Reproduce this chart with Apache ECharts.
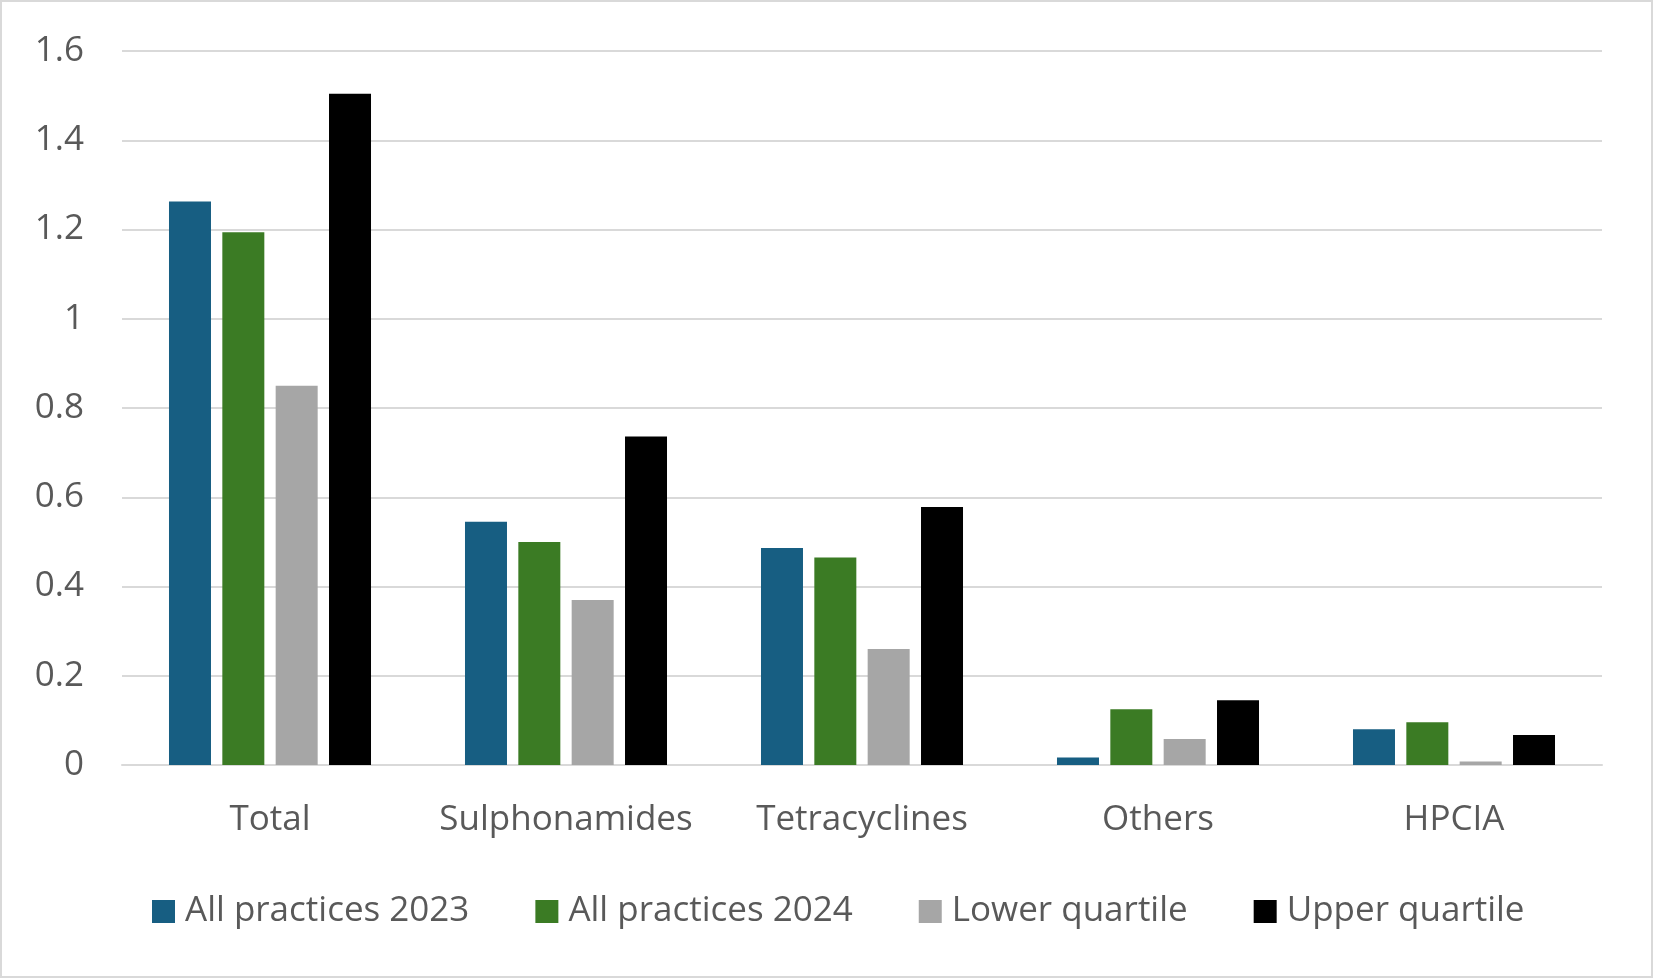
<!DOCTYPE html>
<html><head><meta charset="utf-8">
<script src="https://cdn.jsdelivr.net/npm/echarts@6/dist/echarts.min.js"></script>
<style>
html,body{margin:0;padding:0;background:#fff;}
#c{width:1653px;height:978px;box-sizing:border-box;border:2px solid #d9d9d9;}
</style></head><body>
<div id="c"></div>
<script>
const categories = ['Total','Sulphonamides','Tetracyclines','Others','HPCIA'];
const seriesNames = ['All practices 2023','All practices 2024','Lower quartile','Upper quartile'];
const practices2023 = [1.263, 0.545, 0.486, 0.017, 0.080];
const practices2024 = [1.194, 0.500, 0.465, 0.125, 0.096];
const lowerQuartile = [0.850, 0.370, 0.260, 0.058, 0.008];
const upperQuartile = [1.504, 0.736, 0.578, 0.145, 0.067];
const yTicks = [0, 0.2, 0.4, 0.6, 0.8, 1, 1.2, 1.4, 1.6];
const colors = ['#175e82', '#3b7b24', '#a6a6a6', '#000000'];
const values = [practices2023, practices2024, lowerQuartile, upperQuartile];

const font = '"Open Sans", "Liberation Sans", sans-serif';
const chart = echarts.init(document.getElementById('c'), null, {renderer:'canvas'});
chart.setOption({
  animation:false,
  color: colors,
  grid:{left:120, right:49, top:49, bottom:211, containLabel:false},
  legend:{
    bottom:42, left:145,
    itemWidth:23, itemHeight:23, itemGap:66,
    icon:'rect',
    textStyle:{fontFamily:font, fontSize:35, color:'#595959', padding:[0,0,0,5]},
    data: seriesNames
  },
  xAxis:{
    type:'category', data:categories,
    axisLine:{lineStyle:{color:'#d9d9d9', width:2}},
    axisTick:{show:false},
    axisLabel:{fontFamily:font, fontSize:35, color:'#595959', margin:38, interval:0}
  },
  yAxis:{
    type:'value', min:yTicks[0], max:yTicks[yTicks.length-1], interval:0.2,
    axisLine:{show:false}, axisTick:{show:false},
    splitLine:{lineStyle:{color:'#d9d9d9', width:2}},
    axisLabel:{fontFamily:font, fontSize:35, color:'#595959', margin:38,
      formatter:v=>String(Math.round(v*10)/10)}
  },
  series: seriesNames.map((n,i)=>({
    name:n, type:'bar', data:values[i], barWidth:42, barGap:'27%',
    itemStyle:{color:colors[i]}
  }))
});
</script>
</body></html>
